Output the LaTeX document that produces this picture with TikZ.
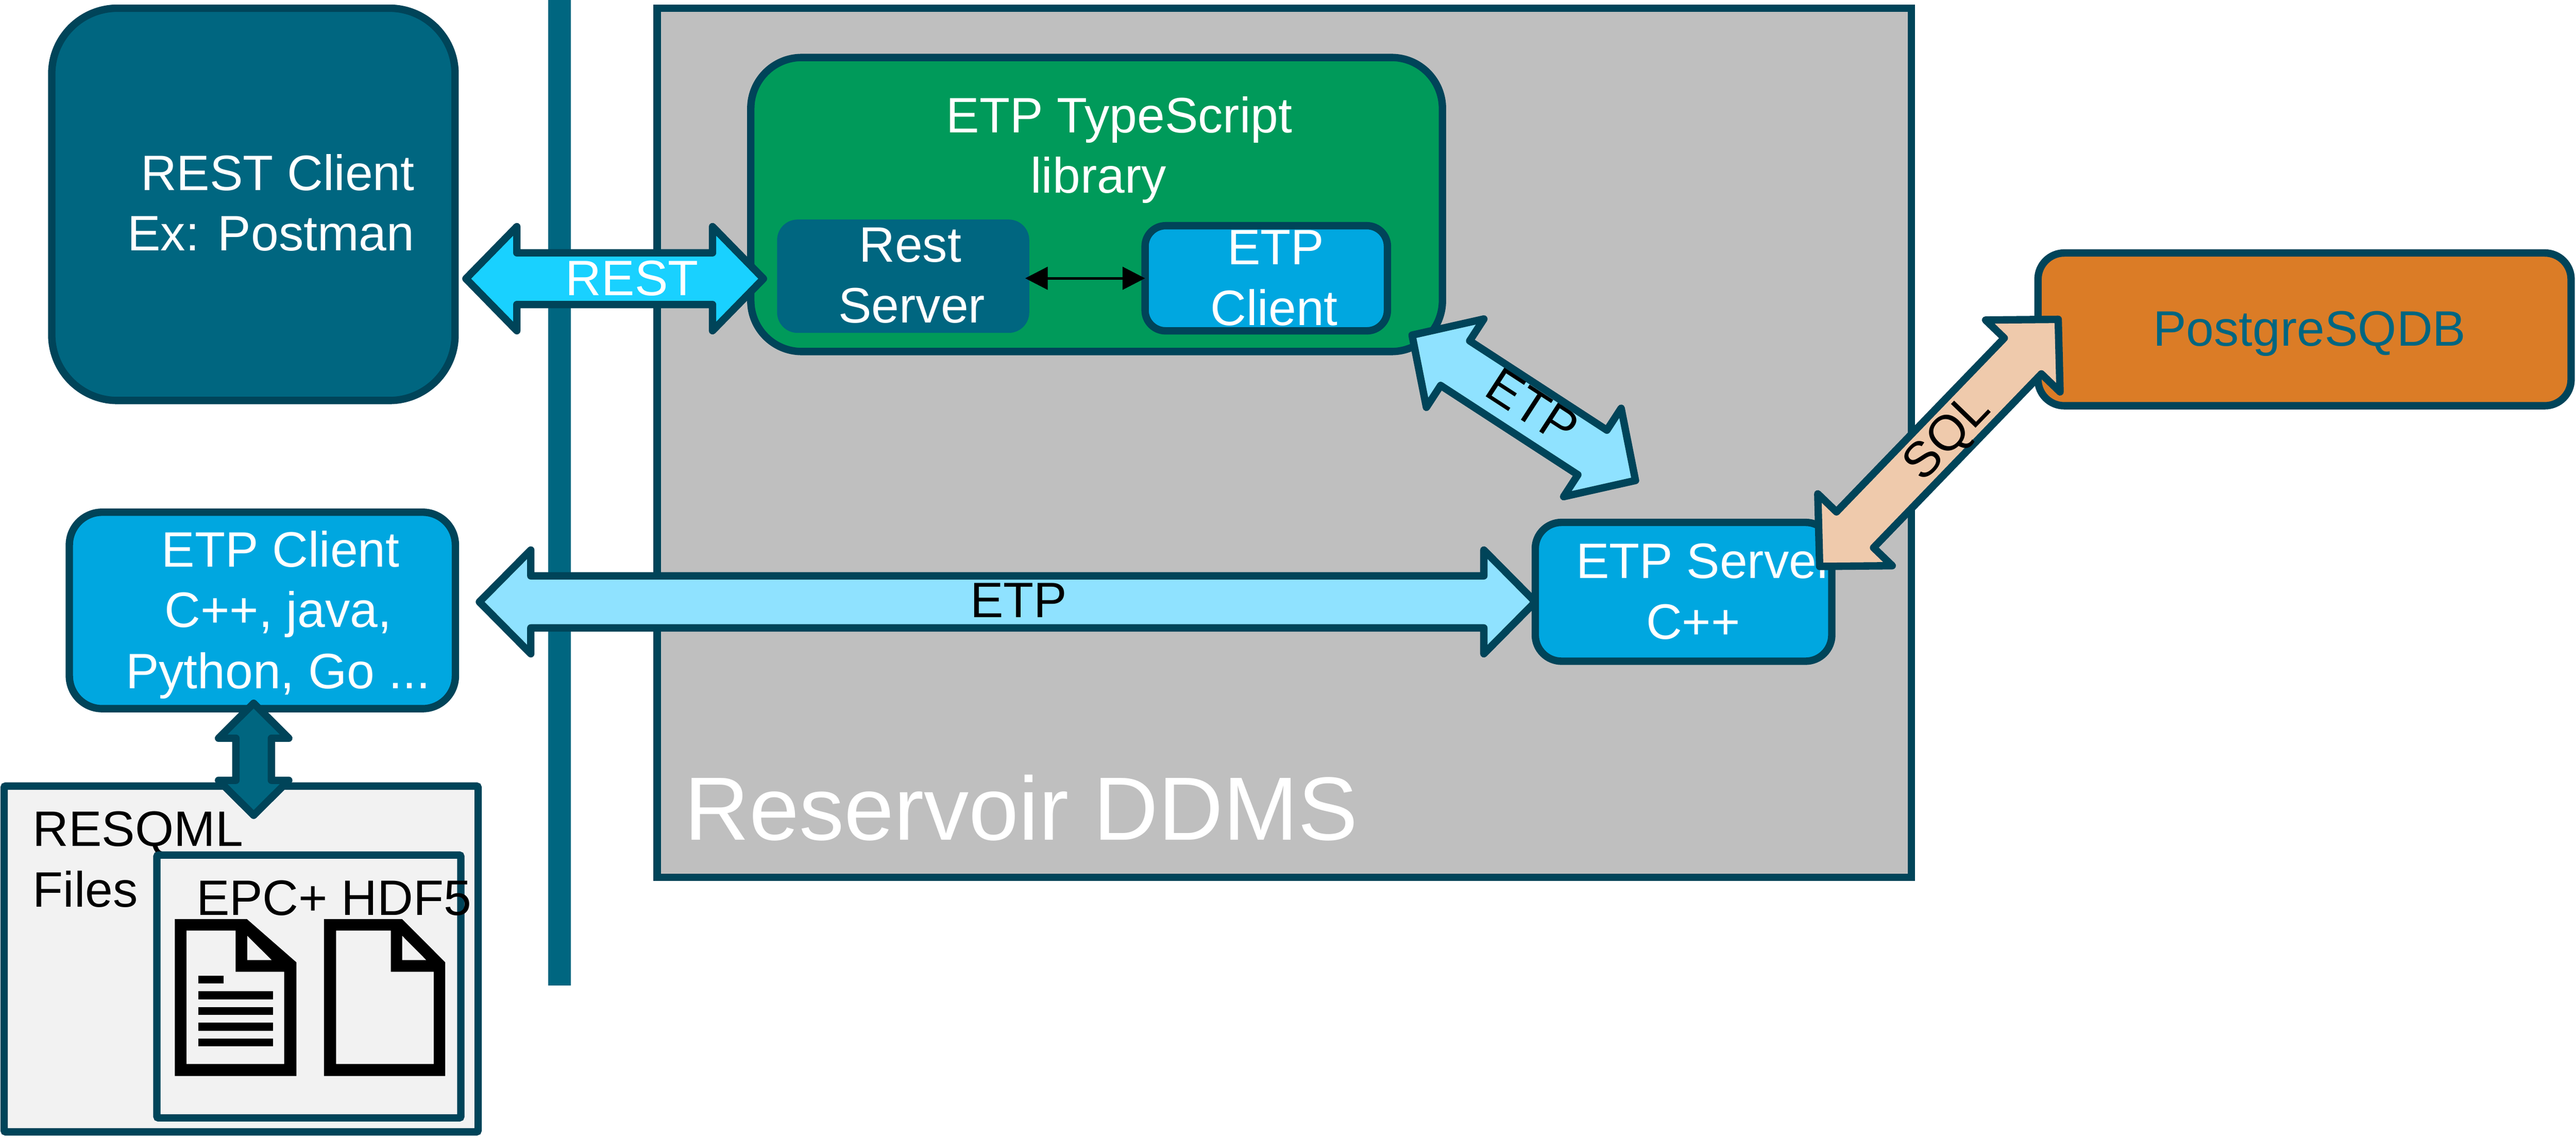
\documentclass[tikz,border=0pt]{standalone}
\usepackage{fontspec}
\setmainfont{Liberation Sans}
\usetikzlibrary{calc,arrows.meta}
\definecolor{dk}{HTML}{004459}
\definecolor{mid}{HTML}{006680}
\definecolor{blu}{HTML}{00A7E0}
\definecolor{lite}{HTML}{8FE2FF}
\definecolor{cyn}{HTML}{19D1FF}
\definecolor{grn}{HTML}{009A5A}
\definecolor{gry}{HTML}{BFBFBF}
\definecolor{org}{HTML}{DB7C26}
\definecolor{pch}{HTML}{EFCAAC}
\definecolor{pale}{HTML}{F2F2F2}
\tikzset{
  box/.style={draw=dk,line width=4.5pt,inner sep=0pt,outer sep=0pt,rectangle},
  lbl/.style={inner sep=0pt,outer sep=0pt,anchor=base,font=\fontsize{30.3}{36}\selectfont},
  wlbl/.style={lbl,text=white},
  fat/.style={draw=dk,line width=4.5pt,line join=round},
  ink/.style={fill=black,even odd rule,draw=none}
}
% tail tip, head tip, head length, half head width, half shaft width, fill
\newcommand{\fatarrow}[6]{%
  \coordinate (p) at ($(#1)!#3pt!(#2)$);
  \coordinate (q) at ($(#2)!#3pt!(#1)$);
  \draw[fat,fill=#6] (#1)
    -- ($(p)!#4pt!90:(#2)$) -- ($(p)!#5pt!90:(#2)$)
    -- ($(q)!#5pt!-90:(#1)$) -- ($(q)!#4pt!-90:(#1)$)
    -- (#2)
    -- ($(q)!#4pt!90:(#1)$) -- ($(q)!#5pt!90:(#1)$)
    -- ($(p)!#5pt!-90:(#2)$) -- ($(p)!#4pt!-90:(#2)$)
    -- cycle;}
\begin{document}
\begin{tikzpicture}[x=1pt,y=-1pt]
\useasboundingbox (0,0) rectangle (1568,692.45);
% barrier
\fill[mid] (333.6,0) rectangle (347.4,600);
% reservoir
\node[box,fill=gry,minimum width=763.4pt,minimum height=529pt] (ddms) at (781.7,269.5) {};
\node[lbl,anchor=base west,text=white,font=\fontsize{54.7}{60}\selectfont] (ddmst) at (416.5,511.4) {Reservoir DDMS};
% rest client
\node[box,fill=mid,rounded corners=40pt,minimum width=245.5pt,minimum height=238.8pt] (restc) at (154.25,124.4) {};
\node[wlbl] (restc1) at (169,115.9) {REST Client};
\node[wlbl] (restc2) at (164.9,152.7) {Ex: Postman};
% resqml
\node[box,fill=pale,rounded corners=1pt,minimum width=288.5pt,minimum height=210.5pt] (resq) at (146.75,583.75) {};
\node[lbl,anchor=base west] (resq1) at (20,515) {RESQML};
\node[lbl,anchor=base west] (resq2) at (20,552) {Files};
\node[box,fill=pale,rounded corners=1pt,minimum width=185pt,minimum height=160pt] (epcbox) at (188,600.5) {};
\node[lbl,anchor=base west] (epc) at (119.5,557) {EPC+ HDF5};
% doc icons
\fill[ink] (106.4,559.5) -- (150.3,559.5) -- (180.4,585.8) -- (180.4,655) -- (106.4,655) -- cycle
  (113.5,566.5) -- (143.4,566.5) -- (143.4,591.6) -- (173,591.6) -- (173,647.7) -- (113.5,647.7) -- cycle
  (150.5,569.6) -- (150.5,584.4) -- (165.4,584.4) -- cycle;
\fill[black] (120.7,594) rectangle (136.2,598.6);
\fill[black] (120.7,603.5) rectangle (166.1,608.3);
\fill[black] (120.7,613) rectangle (166.1,617.7);
\fill[black] (120.7,622.6) rectangle (166.1,627.4);
\fill[black] (120.7,632.1) rectangle (166.1,636.8);
\fill[ink] (197.2,559.5) -- (244.8,559.5) -- (271,585.8) -- (271,655) -- (197.2,655) -- cycle
  (204.6,566.5) -- (237.9,566.5) -- (237.9,591.6) -- (264,591.6) -- (264,647.7) -- (204.6,647.7) -- cycle
  (244.8,569.6) -- (244.8,584.4) -- (259.5,584.4) -- cycle;
% etp client
\node[box,fill=blu,rounded corners=20pt,minimum width=235pt,minimum height=119.6pt] (etpc) at (159.7,371.6) {};
\node[wlbl] (etpc1) at (170.8,345) {ETP Client};
\node[wlbl] (etpc2) at (169.3,381.7) {C++, java,};
\node[wlbl] (etpc3) at (169.2,419) {Python, Go ...};
% green library
\node[box,fill=grn,rounded corners=31pt,minimum width=421pt,minimum height=179pt] (lib) at (667.5,124.5) {};
\node[wlbl] (lib1) at (681.3,80.6) {ETP TypeScript};
\node[wlbl] (lib2) at (668.6,117.6) {library};
\node[rectangle,fill=mid,rounded corners=12.5pt,inner sep=0pt,outer sep=0pt,minimum width=153.5pt,minimum height=69pt] (rests) at (549.75,168.15) {};
\node[wlbl] (rests1) at (554,159.6) {Rest};
\node[wlbl] (rests2) at (555,196.6) {Server};
\node[box,fill=blu,rounded corners=12.5pt,minimum width=147.5pt,minimum height=64pt] (etpi) at (770.75,169.4) {};
\node[wlbl] (etpi1) at (776.6,160.9) {ETP};
\node[wlbl] (etpi2) at (775.6,198) {Client};
\draw[line width=1.6pt,shorten <=-2.5pt,{Triangle[length=13.7pt,width=13.7pt]}-{Triangle[length=13.7pt,width=13.7pt]}] (rests.east |- etpi.west) -- (etpi.west);
% arrows and the boxes they run behind
\coordinate (restL) at (283.6,169.65);
\coordinate (restR) at (464.7,169.65);
\fatarrow{restL}{restR}{31}{31.7}{15.75}{cyn}
\node[wlbl] (restt) at (384.7,179.7) {REST};
\coordinate (etpL) at (291.8,366.4);
\coordinate (etpR) at (934.5,366.4);
\fatarrow{etpL}{etpR}{31.3}{31.6}{15.85}{lite}
\node[lbl] (etpt) at (620,376) {ETP};
\coordinate (vT) at (154.4,428.1);
\coordinate (vB) at (154.4,496.3);
\fatarrow{vT}{vB}{21.3}{21.4}{10.8}{mid}
% etp server
\node[box,fill=blu,rounded corners=16pt,minimum width=180.5pt,minimum height=84.5pt] (srv) at (1024.75,360.25) {};
\node[wlbl] (srv1) at (1037.6,352) {ETP Server};
\node[wlbl] (srv2) at (1030.6,389) {C++};
% postgres
\node[box,fill=org,rounded corners=16pt,minimum width=324.5pt,minimum height=93pt] (pg) at (1402.75,200.5) {};
\node[lbl,text=mid] (pgt) at (1405.8,210.6) {PostgreSQDB};
\coordinate (dA) at (859.5,204);
\coordinate (dB) at (995.5,292.5);
\fatarrow{dA}{dB}{31.3}{32.1}{16.2}{lite}
\node[lbl,anchor=center,rotate=-33] (etpd) at (932.8,247.5) {ETP};
\coordinate (sA) at (1107.6,344.8);
\coordinate (sB) at (1252.8,194.4);
\fatarrow{sA}{sB}{31}{31.5}{15.7}{pch}
\node[lbl,anchor=center,rotate=46] (sqlt) at (1186,266.7) {SQL};
\end{tikzpicture}
\end{document}
